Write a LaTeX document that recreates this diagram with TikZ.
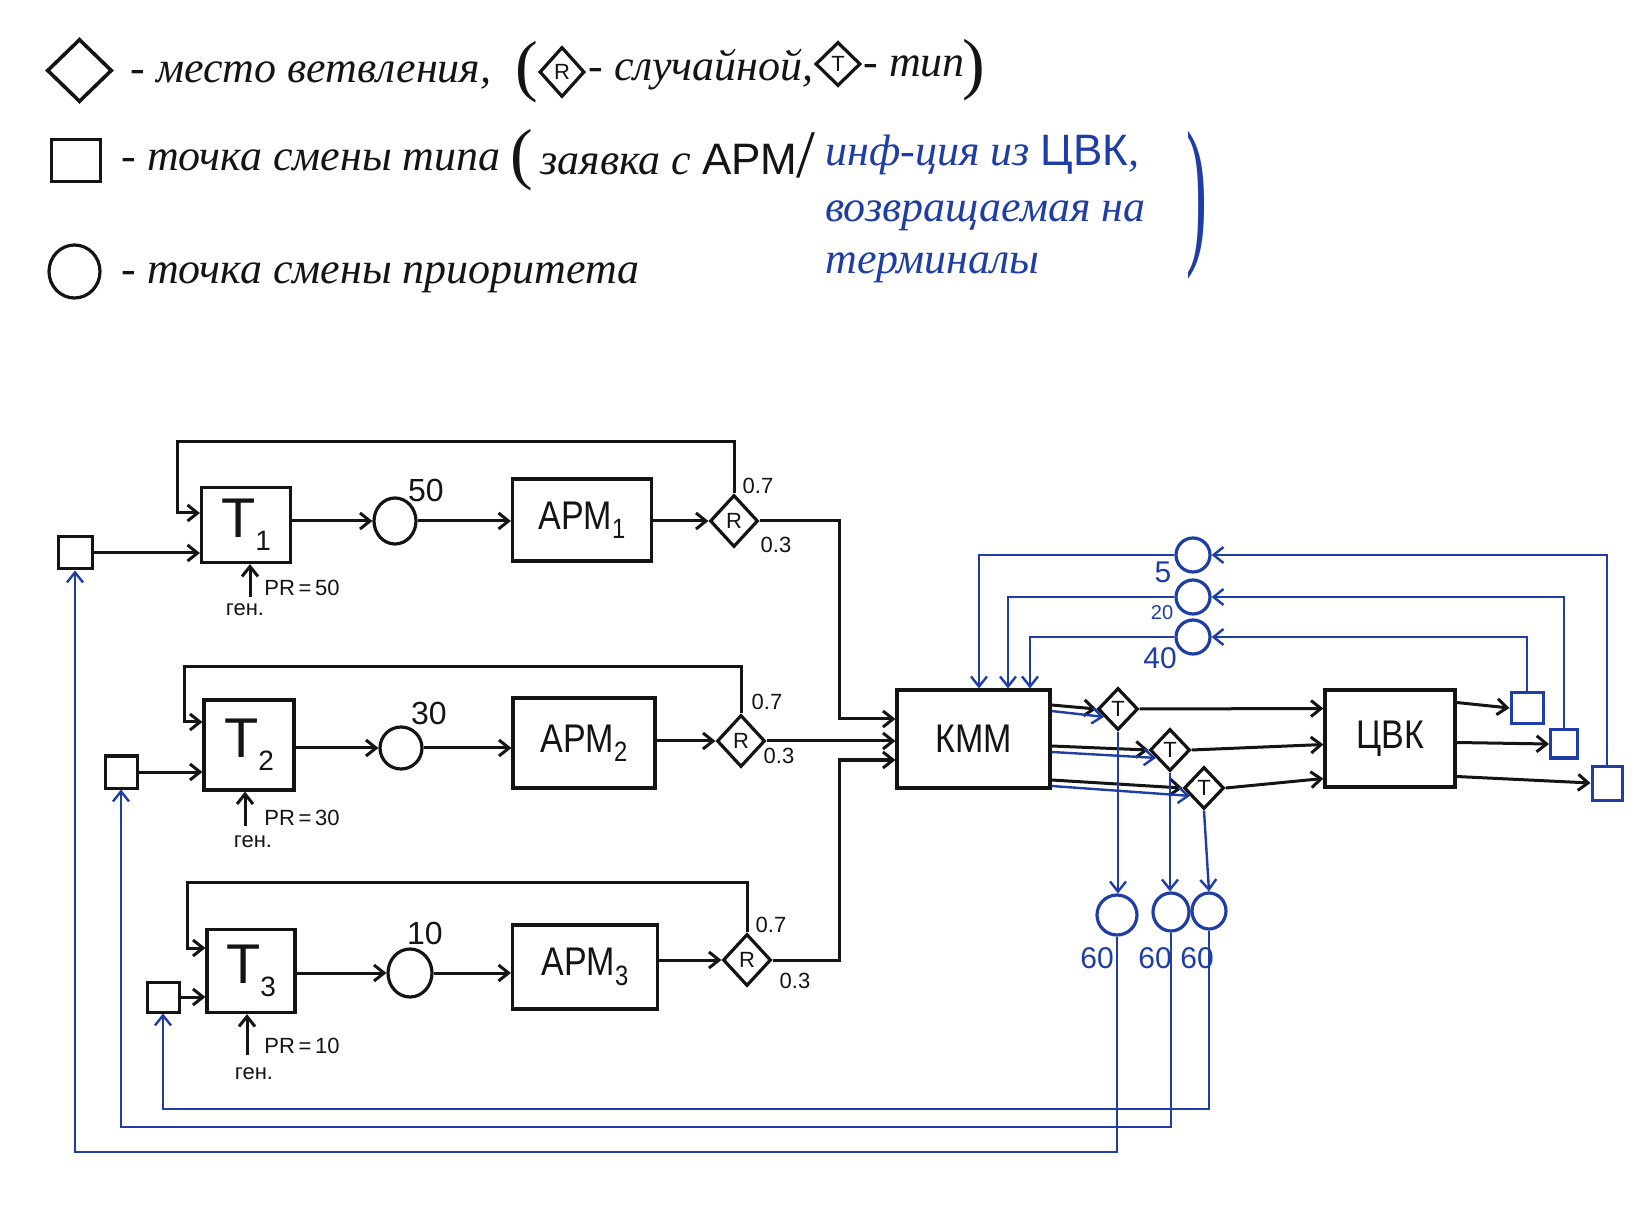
\documentclass[tikz,border=0pt]{standalone}
\usepackage{fontspec}
\usepackage{graphicx}
\setmainfont{Liberation Serif}
\newfontfamily\lab{Liberation Sans}
\usetikzlibrary{arrows.meta,shapes.geometric,calc}
\definecolor{ink}{RGB}{20,20,20}
\definecolor{bink}{RGB}{30,62,165}
\newcommand\lsub[1]{\raisebox{-0.45ex}{\fontsize{14}{14}\selectfont #1}}
\newcommand\narrow[1]{\scalebox{0.85}[1]{#1}}
\begin{document}
\begin{tikzpicture}[x=0.5pt,y=-0.5pt,
  box/.style={draw=ink,line width=1.6pt,inner sep=0pt,text=ink,font=\lab\fontsize{20}{22}\selectfont},
  sq/.style={draw=ink,line width=1.5pt,inner sep=0pt},
  bsq/.style={draw=bink,line width=1.5pt,inner sep=0pt},
  pc/.style={ellipse,draw=ink,line width=1.6pt,inner sep=0pt},
  bpc/.style={ellipse,draw=bink,line width=1.6pt,inner sep=0pt},
  rd/.style={diamond,draw=ink,line width=1.6pt,inner sep=0pt,text=ink,font=\lab\fontsize{11}{12}\selectfont},
  arr/.style={draw=ink,line width=1.5pt,-{Straight Barb[length=5pt,width=8pt]}},
  barr/.style={draw=bink,line width=1.2pt,-{Straight Barb[length=5pt,width=8pt]}},
  num/.style={font=\lab\fontsize{16}{18}\selectfont,text=ink,inner sep=0pt},
  bnum/.style={font=\lab\fontsize{15}{17}\selectfont,text=bink,inner sep=0pt},
  small/.style={font=\lab\fontsize{11}{12}\selectfont,text=ink,inner sep=0pt},
  curs/.style={font=\itshape\fontsize{22}{24}\selectfont,text=ink,inner sep=0pt,anchor=west},
  paren/.style={font=\fontsize{34}{34}\selectfont,text=ink,inner sep=0pt},
]
\useasboundingbox[fill=white] (0,0) rectangle (1651,1219);

% ---------- legend ----------
\node[diamond,draw=ink,line width=1.8pt,minimum width=32.5pt,minimum height=31.5pt,inner sep=0pt] (lgD) at (79.5,70.5) {};
\node[curs] (lgDt) at (130,76) {- место ветвления,};
\node[paren] (lgP1) at (527,72) {(};
\node[rd,minimum width=22.5pt,minimum height=25pt] (lgR) at (562,72) {R};
\node[curs] (lgRt) at (588,70) {- случайной,};
\node[rd,minimum width=22.5pt,minimum height=22pt] (lgT) at (838,64) {T};
\node[curs] (lgTt) at (863,66) {- тип};
\node[paren] (lgP2) at (974,70) {)};

\node[sq,minimum width=24.5pt,minimum height=21pt] (lgS) at (75.5,161) {};
\node[curs] (lgSt) at (121,160) {- точка смены типа};
\node[paren] (lgP3) at (522,160) {(};
\node[curs] (lgSt2) at (540,160) {заявка с {\upshape\lab АРМ}};
\node[paren] (lgSl) at (806,155) {/};
\node[curs,text=bink] (lgB1) at (825,155) {инф-ция из {\upshape\lab ЦВК},};
\node[curs,text=bink] (lgB2) at (825,216) {возвращаемая на};
\node[curs,text=bink] (lgB3) at (825,268) {терминалы};
\node[text=bink,inner sep=0pt,font=\fontsize{24}{24}\selectfont] (lgP4) at (1197,205) {\scalebox{1.3}[3.4]{)}};

\node[pc,minimum width=25.5pt,minimum height=26.5pt] (lgC) at (74.5,271.5) {};
\node[curs] (lgCt) at (121,278) {- точка смены приоритета};

% ---------- row 1 ----------
\node[sq,minimum width=17pt,minimum height=16pt] (S1) at (75,553) {};
\node[box,minimum width=44.5pt,minimum height=37.5pt] (T1) at (246,525) {\fontsize{28}{28}\selectfont T\lsub{1}};
\node[pc,minimum width=21pt,minimum height=23pt] (C1) at (395,521) {};
\node[num] (n50) at (426,490) {50};
\node[box,minimum width=69.5pt,minimum height=41pt] (A1) at (582,520) {\narrow{АРМ\lsub{1}}};
\node[rd,minimum width=24pt,minimum height=26pt] (R1) at (734,521) {R};
\node[small] (p17) at (758,486) {0.7};
\node[small] (p13) at (776,545) {0.3};
\coordinate (L1) at (177,442);
\coordinate (J1) at (839,719);
\coordinate (G1) at (250,597);
\node[small,anchor=west] (pr1) at (264,588) {PR\,=\,50};
\node[small] (g1) at (245,610) {ген.};

% ---------- row 2 ----------
\node[sq,minimum width=16pt,minimum height=16pt] (S2) at (121,772) {};
\node[box,minimum width=45pt,minimum height=45pt] (T2) at (249,745) {\fontsize{28}{28}\selectfont T\lsub{2}};
\node[pc,minimum width=21pt,minimum height=21pt] (C2) at (401,748) {};
\node[num] (n30) at (429,713) {30};
\node[box,minimum width=71pt,minimum height=45pt] (A2) at (584,743) {\narrow{АРМ\lsub{2}}};
\node[rd,minimum width=24pt,minimum height=26pt] (R2) at (741,741) {R};
\node[small] (p27) at (767,702) {0.7};
\node[small] (p23) at (779,756) {0.3};
\coordinate (L2) at (184,667);
\coordinate (G2) at (245,826);
\node[small,anchor=west] (pr2) at (264,818) {PR\,=\,30};
\node[small] (g2) at (253,842) {ген.};

% ---------- row 3 ----------
\node[sq,minimum width=16pt,minimum height=15pt] (S3) at (163,997) {};
\node[box,minimum width=44pt,minimum height=41.5pt] (T3) at (251,971) {\fontsize{28}{28}\selectfont T\lsub{3}};
\node[pc,minimum width=22pt,minimum height=24pt] (C3) at (410,973) {};
\node[num] (n10) at (425,933) {10};
\node[box,minimum width=72.5pt,minimum height=42pt] (A3) at (585,967) {\narrow{АРМ\lsub{3}}};
\node[rd,minimum width=24pt,minimum height=26pt] (R3) at (747,960) {R};
\node[small] (p37) at (771,925) {0.7};
\node[small] (p33) at (795,981) {0.3};
\coordinate (L3) at (187,882);
\coordinate (J3) at (839,760);
\coordinate (G3) at (247,1055);
\node[small,anchor=west] (pr3) at (264,1046) {PR\,=\,10};
\node[small] (g3) at (254,1074) {ген.};

% ---------- right part ----------
\node[box,minimum width=76.5pt,minimum height=49pt] (KMM) at (973.5,739) {\narrow{КММ}};
\node[box,minimum width=65pt,minimum height=48.5pt] (CVK) at (1390,738.5) {\narrow{ЦВК}};
\node[rd,minimum width=20pt,minimum height=21pt] (D1) at (1118,709) {T};
\node[rd,minimum width=20pt,minimum height=21pt] (D2) at (1170,750) {T};
\node[rd,minimum width=20pt,minimum height=21pt] (D3) at (1204,788) {T};

\node[bpc,minimum width=17pt,minimum height=17pt] (P5) at (1193,555) {};
\node[bpc,minimum width=17pt,minimum height=17pt] (P20) at (1193,597) {};
\node[bpc,minimum width=17pt,minimum height=17pt] (P40) at (1193,637) {};
\node[bnum] (l5) at (1163,572) {5};
\node[bnum,font=\lab\fontsize{10}{12}\selectfont] (l20) at (1162,613) {20};
\node[bnum] (l40) at (1160,658) {40};

\node[bpc,minimum width=20pt,minimum height=20pt] (Q1) at (1117,915) {};
\node[bpc,minimum width=18pt,minimum height=19pt] (Q2) at (1171,912) {};
\node[bpc,minimum width=17pt,minimum height=18pt] (Q3) at (1209,911) {};
\node[bnum] (l601) at (1097,958) {60};
\node[bnum] (l602) at (1155,958) {60};
\node[bnum] (l603) at (1197,958) {60};

\node[bsq,minimum width=16pt,minimum height=15.5pt] (S4) at (1527,708) {};
\node[bsq,minimum width=13.5pt,minimum height=14pt] (S5) at (1564,744) {};
\node[bsq,minimum width=15pt,minimum height=17pt] (S6) at (1607,783) {};

\coordinate (B1) at (0,1152);
\coordinate (B2) at (0,1127);
\coordinate (B3) at (0,1109);

% ---------- connectors: rows ----------
\draw[arr] (S1.east) -- (S1.east -| T1.west);
\draw[arr] (T1.east |- C1.west) -- (C1.west);
\draw[arr] (C1.east) -- (C1.east -| A1.west);
\draw[arr] (A1.east |- R1.west) -- (R1.west);
\draw[arr] (R1.north) |- (L1) |- ([yshift=6pt]T1.west);
\draw[arr] (R1.east) -| (J1) -- (J1 -| KMM.west);
\draw[arr] (G1) -- (G1 |- T1.south);

\draw[arr] (S2.east) -- (S2.east -| T2.west);
\draw[arr] (T2.east |- C2.west) -- (C2.west);
\draw[arr] (C2.east) -- (C2.east -| A2.west);
\draw[arr] (A2.east |- R2.west) -- (R2.west);
\draw[arr] (R2.north) |- (L2) |- ([yshift=11.5pt]T2.west);
\draw[arr] (R2.east) -- (R2.east -| KMM.west);
\draw[arr] (G2) -- (G2 |- T2.south);

\draw[arr] (S3.east) -- (S3.east -| T3.west);
\draw[arr] (T3.east |- C3.west) -- (C3.west);
\draw[arr] (C3.east) -- (C3.east -| A3.west);
\draw[arr] (A3.east |- R3.west) -- (R3.west);
\draw[arr] (R3.north) |- (L3) |- ([yshift=11.5pt]T3.west);
\draw[arr] (R3.east) -| (J3) -- (J3 -| KMM.west);
\draw[arr] (G3) -- (G3 |- T3.south);

% ---------- connectors: KMM / CVK ----------
\draw[arr] ([yshift=17pt]KMM.east) -- (D1.west);
\draw[barr] ([yshift=14pt]KMM.east) -- ($(D1.west)!0.35!(D1.south)$);
\draw[arr] ([yshift=-3.5pt]KMM.east) -- (D2.west);
\draw[barr] ([yshift=-6.5pt]KMM.east) -- ($(D2.west)!0.35!(D2.south)$);
\draw[arr] ([yshift=-20.5pt]KMM.east) -- (D3.west);
\draw[barr] ([yshift=-23.5pt]KMM.east) -- ($(D3.west)!0.35!(D3.south)$);

\draw[arr] (D1.east) -- ([yshift=15pt]CVK.west);
\draw[arr] (D2.east) -- ([yshift=-3pt]CVK.west);
\draw[arr] (D3.east) -- ([yshift=-20pt]CVK.west);

\draw[arr] ([yshift=18pt]CVK.east) -- (S4.west);
\draw[arr] ([yshift=-2pt]CVK.east) -- (S5.west);
\draw[arr] ([yshift=-19pt]CVK.east) -- (S6.west);

\draw[barr] (S6.north) |- (P5.east);
\draw[barr] (S5.north) |- (P20.east);
\draw[barr] (S4.north) |- (P40.east);
\draw[barr] (P5.west) -| ([xshift=2.75pt]KMM.north);
\draw[barr] (P20.west) -| ([xshift=17.25pt]KMM.north);
\draw[barr] (P40.west) -| ([xshift=28.25pt]KMM.north);

\draw[barr] (D1.south) -- (D1.south |- Q1.north);
\draw[barr] (D2.south) -- (D2.south |- Q2.north);
\draw[barr] (D3.south) -- (Q3.north);

\draw[barr] (Q1.south) |- (S1.south |- B1) -- (S1.south);
\draw[barr] (Q2.south) |- (S2.south |- B2) -- (S2.south);
\draw[barr] (Q3.south) |- (S3.south |- B3) -- (S3.south);
\end{tikzpicture}
\end{document}
